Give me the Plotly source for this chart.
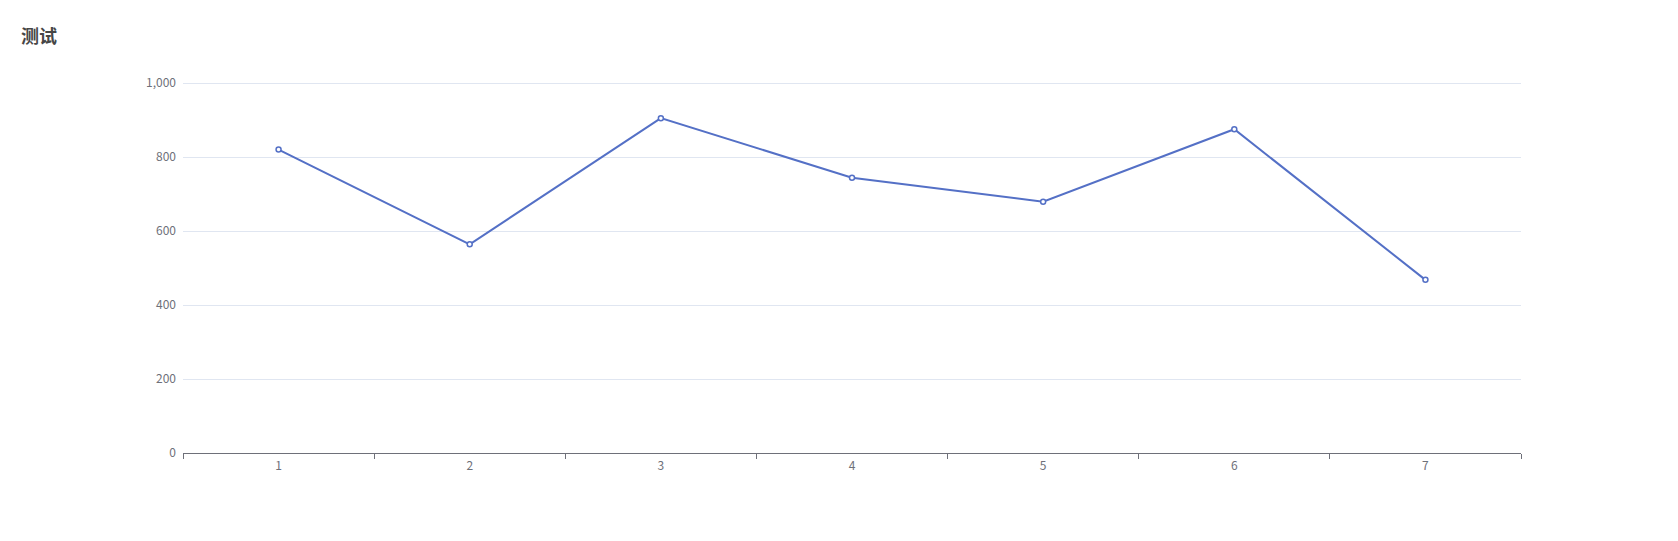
import plotly.graph_objects as go

categories = ["1", "2", "3", "4", "5", "6", "7"]
values = [820, 564, 905, 744, 679, 875, 468]
y_ticks = [0, 200, 400, 600, 800, 1000]
title_text = "测试"

fig = go.Figure()
fig.add_trace(go.Scatter(
    x=categories, y=values, mode="lines+markers",
    line=dict(color="#5470c6", width=2),
    marker=dict(symbol="circle", size=5, color="#ffffff",
                line=dict(color="#5470c6", width=1.5)),
    showlegend=False, cliponaxis=False,
))

font_family = "Microsoft YaHei, Noto Sans CJK SC, Noto Sans, sans-serif"

W, H = 1662, 525  # page body has an 8px margin
fig.update_layout(
    width=W, height=H,
    margin=dict(l=175, r=149, t=72, b=80),
    paper_bgcolor="#ffffff", plot_bgcolor="#ffffff",
    font=dict(family=font_family, size=12, color="#6E7079"),
    title=dict(text=title_text, x=13/W, y=1-29/H, xref="container", yref="container",
               xanchor="left", yanchor="middle",
               font=dict(family=font_family, size=18, color="#464646", weight="bold")),
    xaxis=dict(type="category", range=[-0.5, 6.5], tickson="boundaries",
               ticks="outside", ticklen=5, tickcolor="#6E7079", tickwidth=1,
               showline=True, linecolor="#6E7079", linewidth=1,
               showgrid=False, zeroline=False, ticklabelstandoff=2,
               tickfont=dict(size=12, color="#6E7079")),
    yaxis=dict(range=[0, 1008.1], tickvals=y_ticks, tickformat=",",
               showgrid=True, gridcolor="#E0E6F1", gridwidth=1,
               showline=False, zeroline=False, ticks="", ticklabelstandoff=6,
               tickfont=dict(size=12, color="#6E7079")),
)

fig.write_html("out.html")
